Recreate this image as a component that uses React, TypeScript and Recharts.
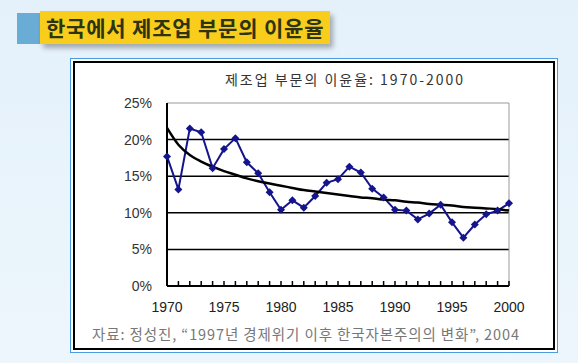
import { LineChart, Line, XAxis, YAxis, ReferenceLine } from 'recharts';

const years = [
  1970, 1971, 1972, 1973, 1974, 1975, 1976, 1977, 1978, 1979, 1980, 1981, 1982, 1983, 1984, 1985,
  1986, 1987, 1988, 1989, 1990, 1991, 1992, 1993, 1994, 1995, 1996, 1997, 1998, 1999, 2000,
];
const profitRate = [
  17.7, 13.2, 21.5, 21.0, 16.1, 18.7, 20.2, 16.9, 15.4, 12.8, 10.4, 11.7, 10.7, 12.3, 14.1, 14.6,
  16.3, 15.5, 13.3, 12.1, 10.4, 10.3, 9.1, 9.9, 11.1, 8.7, 6.6, 8.4, 9.8, 10.3, 11.3,
];
const trendRate = [
  21.6, 19.3, 17.9, 17.0, 16.3, 15.7, 15.2, 14.7, 14.3, 14.0, 13.7, 13.4, 13.1, 12.9, 12.7, 12.5,
  12.3, 12.1, 12.0, 11.8, 11.7, 11.5, 11.4, 11.2, 11.1, 11.0, 10.8, 10.7, 10.6, 10.5, 10.3,
];
const yTicks = [0, 5, 10, 15, 20, 25];
const gridValues = [5, 10, 15, 20];

const data = years.map((year, i) => ({ year, rate: profitRate[i], trend: trendRate[i] }));

const FONT = 'Arial, "Liberation Sans", "Noto Sans CJK KR", sans-serif';
const KR = '"Noto Sans CJK KR", sans-serif';

const Diamond = (props: any) => {
  const { cx, cy } = props;
  if (cx == null || cy == null) return null;
  const r = 4;
  return (
    <path
      d={`M${cx},${cy - r} L${cx + r},${cy} L${cx},${cy + r} L${cx - r},${cy} Z`}
      fill="#14148c"
    />
  );
};

const YearTick = (props: any) => {
  const { x, y, payload } = props;
  const v = payload.value as number;
  return (
    <g>
      <line x1={x} x2={x} y1={y} y2={y - 5} stroke="#000" strokeWidth={1.5} />
      {v % 5 === 0 && (
        <text x={x} y={y + 26} textAnchor="middle" fontSize={14} fill="#222" fontFamily={FONT}>
          {v}
        </text>
      )}
    </g>
  );
};

export default function App() {
  return (
    <div
      style={{
        position: 'absolute',
        left: 0,
        top: 0,
        width: 578,
        height: 363,
        overflow: 'hidden',
        background: 'linear-gradient(180deg, #e4f1fb 0%, #edf6fc 100%)',
        fontFamily: FONT,
      }}
    >
      {/* title banner */}
      <div style={{ position: 'absolute', left: 17, top: 13, width: 60, height: 31, background: '#69acd5' }} />
      <div
        style={{
          position: 'absolute',
          left: 40,
          top: 11,
          width: 290,
          height: 33,
          background: '#f8cd1c',
          boxShadow: '3px 4px 5px rgba(0,0,0,0.3)',
          color: '#2e3410',
          fontSize: 21,
          fontWeight: 'bold',
          fontFamily: KR,
          lineHeight: '33px',
          paddingLeft: 6,
          boxSizing: 'border-box',
          whiteSpace: 'nowrap',
          letterSpacing: 0.8,
        }}
      >
        한국에서 제조업 부문의 이윤율
      </div>

      {/* chart box */}
      <div
        style={{
          position: 'absolute',
          left: 70,
          top: 58,
          width: 488,
          height: 295,
          boxSizing: 'border-box',
          border: '1.5px solid #4a9be0',
          background: '#fff',
          padding: 2,
        }}
      >
        <div style={{ width: '100%', height: '100%', boxSizing: 'border-box', border: '2px solid #000' }} />
      </div>

      <div
        style={{
          position: 'absolute',
          left: 0,
          top: 69,
          width: 578,
          paddingLeft: 112,
          boxSizing: 'border-box',
          textAlign: 'center',
          fontSize: 14,
          color: '#333',
          letterSpacing: 2,
          whiteSpace: 'nowrap',
          fontFamily: KR,
        }}
      >
        제조업 부문의 이윤율: 1970-2000
      </div>

      <div
        style={{
          position: 'absolute',
          left: 92,
          top: 323,
          fontSize: 14.5,
          color: '#777',
          letterSpacing: 0.9,
          whiteSpace: 'nowrap',
          fontFamily: KR,
        }}
      >
        자료: 정성진, “1997년 경제위기 이후 한국자본주의의 변화”, 2004
      </div>

      <div style={{ position: 'absolute', left: 0, top: 0 }}>
        <LineChart
          width={578}
          height={363}
          data={data}
          margin={{ top: 103, right: 69, bottom: 47, left: 107 }}
        >
          <XAxis
            dataKey="year"
            type="number"
            domain={[1970, 2000]}
            ticks={years}
            interval={0}
            tick={<YearTick />}
            tickLine={false}
            tickSize={0}
            tickMargin={0}
            height={30}
            axisLine={{ stroke: '#000', strokeWidth: 2 }}
          />
          <YAxis
            domain={[0, 25]}
            ticks={yTicks}
            width={60}
            tickLine={false}
            tickSize={0}
            tickMargin={15}
            tickFormatter={(v: number) => `${v}%`}
            tick={{ fontSize: 14, fill: '#333', fontFamily: FONT }}
            axisLine={{ stroke: '#000', strokeWidth: 2 }}
          />
          {gridValues.map((v) => (
            <ReferenceLine key={v} y={v} stroke="#000" strokeWidth={1.5} />
          ))}
          <ReferenceLine y={25} stroke="#999" strokeWidth={1} />
          <ReferenceLine x={2000} stroke="#999" strokeWidth={1} />
          <Line
            dataKey="rate"
            stroke="#14148c"
            strokeWidth={2}
            dot={<Diamond />}
            isAnimationActive={false}
          />
          <Line
            dataKey="trend"
            type="monotone"
            stroke="#000"
            strokeWidth={2.5}
            dot={false}
            isAnimationActive={false}
          />
        </LineChart>
      </div>
    </div>
  );
}
